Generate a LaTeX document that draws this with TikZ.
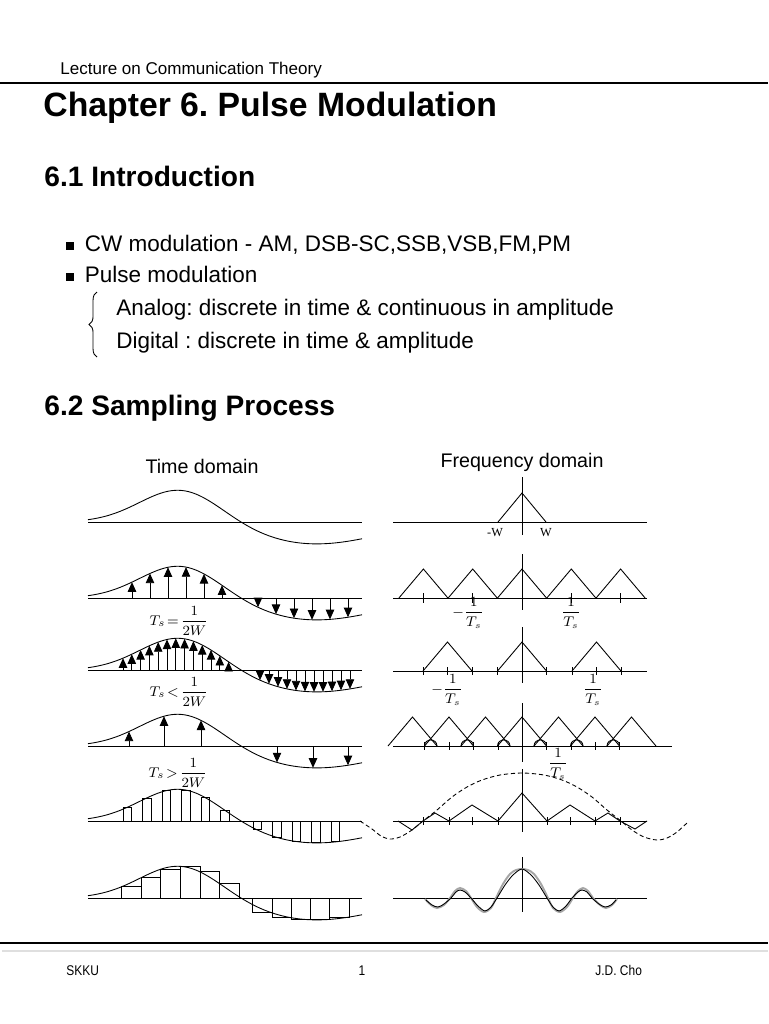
\documentclass[tikz,border=0pt]{standalone}
\usepackage{amsmath}
\usepackage{fontspec}
\setmainfont{Liberation Sans}
\newfontfamily\footfont[FakeStretch=0.85]{Liberation Sans}
\newfontfamily\figserif{Liberation Serif}
\usetikzlibrary{arrows.meta,decorations.pathreplacing}
\frenchspacing

\begin{document}
\begin{tikzpicture}[
    x=0.02cm, y=-0.02cm,
    line width=0.5pt,
    declare function={sig(\xv)=34*exp(-1*((\xv-181)/57)^2)-22*exp(-1*((\xv-315)/90)^2);},
    txt/.style={anchor=base west, inner sep=0pt},
    head/.style={txt, font=\fontsize{16}{19}\selectfont\bfseries},
    item/.style={txt, font=\fontsize{12.8}{15}\selectfont},
    colhead/.style={anchor=base, inner sep=0pt, font=\fontsize{11.2}{13}\selectfont},
    tlabel/.style={inner sep=0pt, font=\fontsize{8.4}{10}\selectfont},
    flabel/.style={inner sep=0pt, font=\fontsize{7.6}{9}\selectfont},
    foot/.style={anchor=base, inner sep=0pt, font=\footfont\fontsize{8}{10}\selectfont},
    samp/.style={-{Triangle[length=5.5pt,width=4.8pt]}},
    tickmark/.style={line width=0.45pt},
    envelope/.style={dash pattern=on 2.4pt off 1.6pt},
  ]
  \fill[white] (0,0) rectangle (768,1024);
  \useasboundingbox (0,0) rectangle (768,1024);

  % page head
  \node[txt, font=\fontsize{9.7}{11}\selectfont] (lecture) at (60,75) {Lecture on Communication Theory};
  \draw[line width=1.1pt] (0,83) -- (768,83);
  \node[txt, font=\fontsize{19.2}{23}\selectfont\bfseries] (chapter) at (43,116) {Chapter 6. Pulse Modulation};
  \node[head] (intro) at (44,186) {6.1 Introduction};
  \node[item] (cw) at (66,251) {\rule[0.6pt]{4.5pt}{4.5pt}\hspace{6pt}CW modulation - AM, DSB-SC,SSB,VSB,FM,PM};
  \node[item] (pulse) at (66,282) {\rule[0.6pt]{4.5pt}{4.5pt}\hspace{6pt}Pulse modulation};
  \draw[decorate, decoration={brace, amplitude=4.5pt}] (97,357) -- (97,292);
  \node[item] (analog) at (116,315) {Analog: discrete in time \& continuous in amplitude};
  \node[item] (digital) at (116,348) {Digital : discrete in time \& amplitude};
  \node[head] (sampling) at (44,415) {6.2 Sampling Process};
  \node[colhead] (timedom) at (202,473) {Time domain};
  \node[colhead] (freqdom) at (522,467) {Frequency domain};

  % time domain
  \foreach \ay in {522,598,670,746,821,898} {
    \draw (88,\ay) -- (362,\ay);
    \draw plot[domain=88:362, samples=80, smooth] (\x,{\ay-sig(\x)});
  }
  \foreach \x in {132,150,...,222} \draw[samp] (\x,598) -- (\x,{598-sig(\x)});
  \foreach \x in {258,276,...,348} \draw[samp] (\x,598) -- (\x,{598-sig(\x)});
  \foreach \x in {123,131.8,...,229} \draw[samp] (\x,670) -- (\x,{670-sig(\x)});
  \foreach \x in {260,269,...,350} \draw[samp] (\x,670) -- (\x,{670-sig(\x)});
  \foreach \x in {129,164,201,277,313,348} \draw[samp] (\x,746) -- (\x,{746-sig(\x)});
  \foreach \x in {123,142.5,...,221} \draw (\x,821) rectangle ({\x+8.5},{821-sig(\x+4.25)});
  \foreach \x in {253,272.5,...,332} \draw (\x,821) rectangle ({\x+8.5},{821-sig(\x+4.25)});
  \foreach \x in {121.7,141.3,...,220} \draw (\x,898) rectangle ({\x+19.6},{898-sig(\x)});
  \foreach \x in {252.7,272,...,331} \draw (\x,898) rectangle ({\x+19.3},{898-sig(\x+19.3)});
  \node[tlabel] (tseq) at (179,621) {$T_s\!=\!\dfrac{1}{2W}$};
  \node[tlabel] (tslt) at (179,692) {$T_s\!<\!\dfrac{1}{2W}$};
  \node[tlabel] (tsgt) at (178,773) {$T_s\!>\!\dfrac{1}{2W}$};

  % frequency domain
  \foreach \ay in {522,598,671,821,898} \draw (393,\ay) -- (647,\ay);
  \draw (393,746) -- (672,746);
  \foreach \top/\bot in {477/535,554/610,627/683,703/762,769/832,857/912} \draw (522,\top) -- (522,\bot);
  \draw (498,522) -- (522,493) -- (546,522);
  \node[flabel, font=\figserif\fontsize{7}{8}\selectfont] (minusw) at (495,533) {-W};
  \node[flabel, font=\figserif\fontsize{7}{8}\selectfont] (plusw) at (546,533) {W};
  \foreach \k in {-2,...,2} \draw ({522+49.3*\k-24.5},598) -- ({522+49.3*\k},569) -- ({522+49.3*\k+24.5},598);
  \foreach \k in {-2,-1,1,2} \draw[tickmark] ({522+49.3*\k},593) -- ({522+49.3*\k},603);
  \node[flabel] (fsneg) at (468,613) {$-\dfrac{1}{T_s}$};
  \node[flabel] (fspos) at (571,613) {$\dfrac{1}{T_s}$};
  \foreach \k in {-1,0,1} \draw ({522+74.5*\k-24.5},671) -- ({522+74.5*\k},642) -- ({522+74.5*\k+24.5},671);
  \foreach \x in {423,447.5,472,497.5,546.5,572,596.5,621} \draw[tickmark] (\x,667) -- (\x,675);
  \node[flabel] (fuseneg) at (447,690) {$-\dfrac{1}{T_s}$};
  \node[flabel] (fusepos) at (593,690) {$\dfrac{1}{T_s}$};
  \foreach \k in {-3,...,3} \draw ({522+36.5*\k-24.5},746) -- ({522+36.5*\k},717) -- ({522+36.5*\k+24.5},746);
  \foreach \k in {-3,...,2} \draw ({522+36.5*\k+12},746) .. controls +(0,-8) and +(0,-8) .. ({522+36.5*\k+24.5},746);
  \foreach \x in {424,449,473,498,546,571,595,619} \draw[tickmark] (\x,742) -- (\x,750);
  \node[flabel] (falias) at (558,764) {$\dfrac{1}{T_s}$};
  \draw[envelope] plot[smooth] coordinates {(360,821) (372,829) (381,836) (390,839) (400,837) (412,830) (423,821) (437,810) (452,797) (467,787) (482,780) (500,775) (522,773) (544,775) (562,780) (577,787) (592,797) (607,810) (621,821) (632,830) (644,837) (657,840) (667,838) (677,832) (688,822)};
  \draw (398,821) -- (412,830) -- (423,821) -- (435,813) -- (449,821) -- (472,805) -- (498,821) -- (522,793) -- (547,821) -- (570,805) -- (595,821) -- (608,813) -- (620,821) -- (635,829) -- (647,821);
  \foreach \x in {423,449,472,498,547,570,595,620} \draw[tickmark] (\x,817) -- (\x,825);
  \draw[gray!70, line width=1.1pt] plot[smooth] coordinates {(425,899) (431,905) (437,908) (444,905) (450,898) (455,891) (460,888) (466,891) (471,898) (477,907) (484,912) (491,908) (496,898) (503,884) (510,874) (516,870) (522,869) (528,870) (534,874) (541,884) (548,898) (553,908) (560,912) (567,907) (573,898) (578,891) (583,888) (588,891) (593,898) (600,905) (606,908) (612,905) (617,899)};
  \draw plot[smooth] coordinates {(426,900) (432,905) (438,907) (444,904) (451,898) (456,892) (460,890) (465,892) (471,898) (478,906) (485,911) (491,907) (497,898) (505,885) (513,875) (522,869) (531,875) (539,885) (547,898) (553,907) (559,911) (566,906) (572,898) (578,892) (582,890) (587,892) (592,898) (599,904) (605,907) (611,905) (616,900)};

  % page foot
  \draw[line width=1.6pt] (0,943) -- (768,943);
  \draw[gray!25, line width=1.5pt] (2,951) -- (768,951);
  \node[foot, anchor=base west] (footschool) at (66,975) {SKKU};
  \node[foot] (footpage) at (362,975) {1};
  \node[foot, anchor=base west] (footauthor) at (595,975) {J.D.\ Cho};
\end{tikzpicture}
\end{document}
